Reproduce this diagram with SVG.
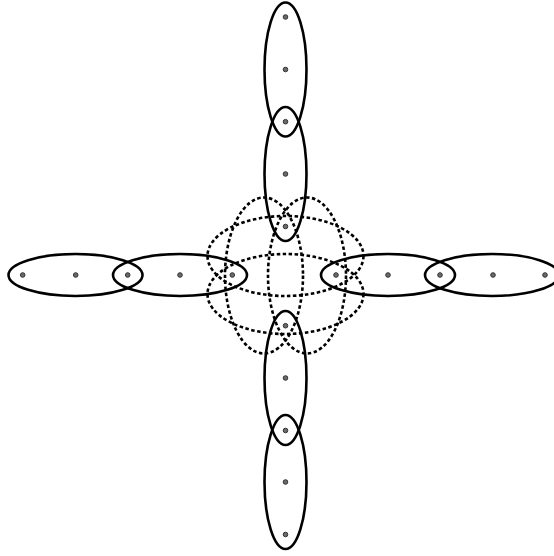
<svg xmlns="http://www.w3.org/2000/svg" width="554" height="556" viewBox="0 0 554 556">
<style>
.s{fill:none;stroke:#000;stroke-width:2.6}
.d{fill:none;stroke:#000;stroke-width:2.6;stroke-dasharray:3.5 2.5}
.p{fill:#6a6a6a;stroke:#333;stroke-width:1}
</style>
<rect width="554" height="556" fill="#fff"/>
<g id="dashed">
<ellipse class="d" cx="285.5" cy="256" rx="78" ry="40"/>
<ellipse class="d" cx="285.5" cy="294" rx="78" ry="40"/>
<ellipse class="d" cx="264" cy="275.5" rx="39" ry="78"/>
<ellipse class="d" cx="307" cy="275.5" rx="39" ry="78"/>
</g>
<g id="top1"><ellipse class="s" cx="285.5" cy="69.5" rx="21" ry="67"/></g>
<g id="top2"><ellipse class="s" cx="285.5" cy="174" rx="21" ry="67"/></g>
<g id="bot1"><ellipse class="s" cx="285.5" cy="378" rx="21" ry="67"/></g>
<g id="bot2"><ellipse class="s" cx="285.5" cy="482" rx="21" ry="67"/></g>
<g id="left1"><ellipse class="s" cx="75.5" cy="275" rx="67" ry="21"/></g>
<g id="left2"><ellipse class="s" cx="180" cy="275" rx="67" ry="21"/></g>
<g id="right1"><ellipse class="s" cx="388" cy="275" rx="67" ry="21"/></g>
<g id="right2"><ellipse class="s" cx="492" cy="275" rx="67" ry="21"/></g>
<g id="points">
<circle class="p" cx="285.5" cy="17" r="2.3"/>
<circle class="p" cx="285.5" cy="69.5" r="2.3"/>
<circle class="p" cx="285.5" cy="121.7" r="2.3"/>
<circle class="p" cx="285.5" cy="174" r="2.3"/>
<circle class="p" cx="285.5" cy="226.5" r="2.3"/>
<circle class="p" cx="285.5" cy="325.7" r="2.3"/>
<circle class="p" cx="285.5" cy="378" r="2.3"/>
<circle class="p" cx="285.5" cy="430.5" r="2.3"/>
<circle class="p" cx="285.5" cy="482" r="2.3"/>
<circle class="p" cx="285.5" cy="534.5" r="2.3"/>
<circle class="p" cx="22.7" cy="275" r="2.3"/>
<circle class="p" cx="75.7" cy="275" r="2.3"/>
<circle class="p" cx="127.7" cy="275" r="2.3"/>
<circle class="p" cx="180" cy="275" r="2.3"/>
<circle class="p" cx="232.3" cy="275" r="2.3"/>
<circle class="p" cx="336" cy="275" r="2.3"/>
<circle class="p" cx="388" cy="275" r="2.3"/>
<circle class="p" cx="440" cy="275" r="2.3"/>
<circle class="p" cx="493" cy="275" r="2.3"/>
<circle class="p" cx="545" cy="275" r="2.3"/>
</g>
</svg>
